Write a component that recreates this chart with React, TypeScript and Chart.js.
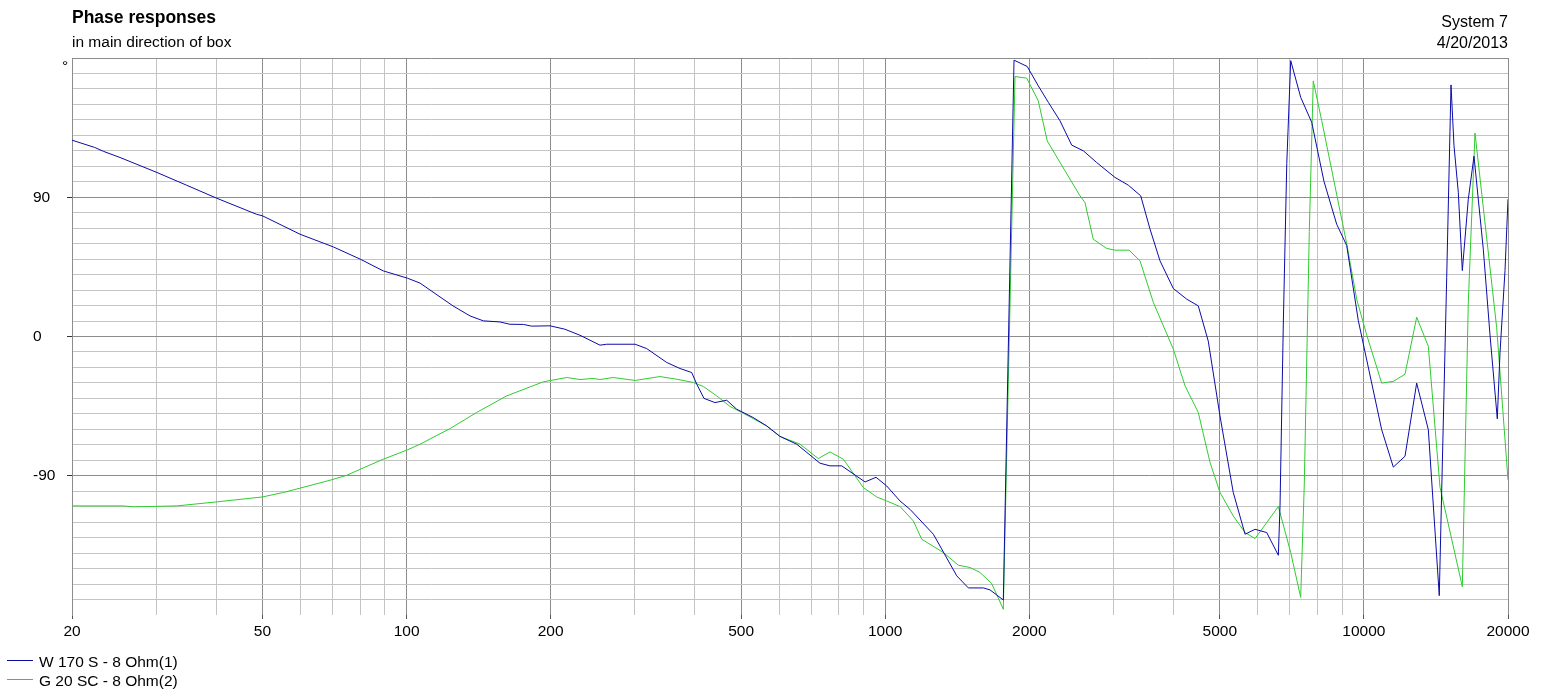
import React, { useEffect, useRef } from 'react';
import { Chart, registerables } from 'chart.js';

Chart.register(...registerables);

const FONT = '"Liberation Sans", Arial, Helvetica, sans-serif';

// ---- Data (frequency in Hz, phase in degrees) ----
const blueLabel = 'W 170 S - 8 Ohm(1)';
const greenLabel = 'G 20 SC - 8 Ohm(2)';

const blueFreq = [20, 22.3, 23.3, 25.2, 30.1, 34.7, 40.1, 48.6, 50, 59.9, 70.3, 80, 89.4, 100.4, 106.7, 125, 135.7, 144.7, 156.8, 164.4, 175.4, 182.5, 199.4, 214.2, 230.3, 241.6, 253.6, 261.8, 300.2, 317.4, 349.6, 372.7, 394.2, 403.8, 418.2, 440.8, 466.4, 489.4, 530, 565.4, 602.8, 653.2, 730.6, 766.6, 811, 907.4, 956.6, 1007, 1073.6, 1126.6, 1260.6, 1410.6, 1491.6, 1603.4, 1655.6, 1764.8, 1858, 1980, 2088, 2192, 2318, 2452, 2594, 2764, 3020, 3220, 3418, 3574, 3750, 3998, 4266, 4508, 4730, 5004, 5334, 5646, 5924, 6266, 6626, 6680, 6788, 6900, 7032, 7378, 7780, 8252, 8772, 9206, 9734, 10892, 11520, 12186, 12890, 13632, 14370, 14536, 14892, 15204, 15424, 15746, 16054, 16522, 16982, 17760, 18342, 18996, 19246, 19714, 20000];
const bluePhase = [126.9, 122.2, 119.6, 115.7, 106, 97.8, 89.4, 79, 78, 66.1, 57.9, 50, 42.4, 37.7, 34.5, 19.8, 13.3, 10.1, 9.4, 7.9, 7.8, 6.7, 6.9, 4.7, 0.8, -2.4, -5.6, -5, -5, -7.8, -16.8, -20.7, -23.3, -30.8, -40, -42.7, -41.2, -47, -52.4, -57.8, -64.6, -69.6, -81.9, -83.6, -83.6, -94, -91, -96.6, -106.3, -111.7, -127.8, -154.7, -162.5, -162.5, -163.8, -170.3, 178.6, 174.5, 162, 151.3, 139.4, 123.7, 120, 112.5, 102.8, 97.8, 90.9, 69.4, 48.9, 31, 24.1, 19.8, -3, -51.3, -100.8, -127.8, -124.6, -126.7, -141.4, -109, 10, 111.8, 178.3, 154.6, 138.4, 100.3, 72.6, 58.8, 10.3, -60.2, -84.4, -77.4, -30.1, -60.2, -167.5, -100.6, 38, 162.6, 123.4, 93.3, 42.6, 88.7, 116.5, 56.4, 1, -53.2, -10.5, 42.6, 88.7];

const greenFreq = [20, 25.6, 26.9, 33.1, 40.1, 50, 55.3, 59.9, 69.2, 75, 80, 89.4, 100.4, 106.7, 123.3, 140.1, 161.8, 193, 216, 230.3, 245.6, 253.6, 270.2, 300.2, 338.4, 366.8, 397.2, 416.8, 444.6, 474, 505.2, 565.4, 602.8, 663.8, 724.6, 766.6, 817.4, 899.8, 959.8, 1007, 1073.6, 1144.6, 1191.6, 1322.4, 1421, 1503.2, 1577.2, 1668.6, 1764.8, 1867, 1974.8, 2088, 2180, 2318, 2552, 2614, 2720, 2902, 3020, 3232, 3406, 3632, 3998, 4230, 4508, 4770, 5004, 5334, 5646, 5924, 6626, 7032, 7378, 7506, 7690, 7838, 8162, 9206, 9660, 10136, 10892, 11520, 12186, 12890, 13632, 14418, 16054, 16522, 17064, 18942, 20000];
const greenPhase = [-109.5, -109.5, -110.1, -109.5, -106.9, -103.7, -100.8, -98, -92.9, -89.7, -85.8, -79.3, -73.3, -69.6, -59.5, -49.1, -38.4, -29.3, -26.5, -27.8, -27.1, -27.8, -26.5, -28.4, -25.9, -27.6, -29.7, -32.3, -38.4, -45.2, -49.6, -57.8, -64.6, -69.6, -78.9, -74.6, -79.3, -97.6, -103.7, -106.3, -109.9, -119.2, -131, -139.6, -147.8, -149.3, -152.5, -159.7, -176.3, 168, 167, 152.3, 126.4, 112.5, 90.9, 86.6, 62.9, 56.9, 55.8, 55.8, 48.9, 22, -8.2, -31.9, -49.1, -81.4, -100.8, -116, -126.7, -130.6, -109.9, -139.6, -168.6, -95.9, 67.8, 165.2, 139.6, 59.9, 24.1, 1, -30.1, -29, -24.4, 12.5, -6.3, -97.3, -161.7, 21.8, 131.5, 5.6, -92.7];

// ---- Axes ----
const xGridValues = [20, 30, 40, 50, 60, 70, 80, 90, 100, 200, 300, 400, 500, 600, 700, 800, 900, 1000, 2000, 3000, 4000, 5000, 6000, 7000, 8000, 9000, 10000, 20000];
const xLabelValues = [20, 50, 100, 200, 500, 1000, 2000, 5000, 10000, 20000];
const yLabelValues = [-90, 0, 90];
const yMin = -180;
const yMax = 180;
const yStep = 10;

const titleText = 'Phase responses';
const subtitleText = 'in main direction of box';
const rightTop = ['System 7', '4/20/2013'];
const unitText = '°';

const GRID_MAJOR = '#8c8c8c';
const GRID_MINOR = '#c4c4c4';
const BLUE = '#0b0ba8';
const GREEN = '#2fcc2f';

const isMajorX = (v: number) => xLabelValues.includes(v);

const textPlugin = {
  id: 'textDecor',
  afterDraw(chart: any) {
    const ctx = chart.ctx as CanvasRenderingContext2D;
    ctx.save();
    ctx.fillStyle = '#000';
    ctx.textBaseline = 'alphabetic';
    ctx.textAlign = 'left';
    ctx.font = `bold 17.5px ${FONT}`;
    ctx.fillText(titleText, 72, 23);
    ctx.font = `15.5px ${FONT}`;
    ctx.fillText(subtitleText, 72, 46.5);
    ctx.textAlign = 'right';
    ctx.font = `16px ${FONT}`;
    ctx.fillText(rightTop[0], 1508, 27);
    ctx.fillText(rightTop[1], 1508, 47.5);
    ctx.textAlign = 'center';
    ctx.font = `15.5px ${FONT}`;
    ctx.fillText(unitText, 65, 71);
    // legend
    ctx.textAlign = 'left';
    chart.data.datasets.forEach((ds: any, i: number) => {
      const y = 660.5 + i * 19;
      ctx.strokeStyle = ds.borderColor;
      ctx.lineWidth = 1;
      ctx.beginPath();
      ctx.moveTo(7, y);
      ctx.lineTo(33, y);
      ctx.stroke();
      ctx.fillStyle = '#000';
      ctx.font = `15.5px ${FONT}`;
      ctx.fillText(ds.label, 39, y + 6.5);
    });
    ctx.restore();
  },
};

export default function App() {
  const ref = useRef<HTMLCanvasElement>(null);
  useEffect(() => {
    if (!ref.current) return;
    const yTicks: number[] = [];
    for (let v = yMin; v <= yMax; v += yStep) yTicks.push(v);
    const chart = new Chart(ref.current, {
      type: 'line',
      data: {
        datasets: [
          {
            label: blueLabel,
            data: blueFreq.map((f, i) => ({ x: f, y: bluePhase[i] })),
            borderColor: BLUE,
            borderWidth: 1,
            pointRadius: 0,
            tension: 0,
            fill: false,
          },
          {
            label: greenLabel,
            data: greenFreq.map((f, i) => ({ x: f, y: greenPhase[i] })),
            borderColor: GREEN,
            borderWidth: 1,
            pointRadius: 0,
            tension: 0,
            fill: false,
          },
        ],
      },
      options: {
        animation: false,
        responsive: false,
        devicePixelRatio: 1,
        layout: { padding: { left: 33, top: 58, right: 47, bottom: 0 } },
        plugins: {
          legend: { display: false },
          tooltip: { enabled: false },
          title: { display: false },
        },
        scales: {
          x: {
            type: 'logarithmic',
            min: 20,
            max: 20000,
            afterBuildTicks: (s: any) => {
              s.ticks = xGridValues.map((v) => ({ value: v }));
            },
            afterFit: (s: any) => {
              s.height = 83;
            },
            ticks: {
              autoSkip: false,
              maxRotation: 0,
              minRotation: 0,
              padding: 3,
              color: '#000',
              font: { family: FONT, size: 15.5 },
              callback: (v: any) => (isMajorX(Number(v)) ? String(v) : ''),
            },
            grid: {
              color: (c: any) => (c.tick && isMajorX(c.tick.value) ? GRID_MAJOR : GRID_MINOR),
              tickColor: (c: any) => (c.tick && isMajorX(c.tick.value) ? '#555' : 'rgba(0,0,0,0)'),
              tickLength: 4,
              lineWidth: 1,
            },
            border: { display: false },
          },
          y: {
            type: 'linear',
            min: yMin,
            max: yMax,
            afterBuildTicks: (s: any) => {
              s.ticks = yTicks.map((v) => ({ value: v }));
            },
            afterFit: (s: any) => {
              s.width = 39;
            },
            ticks: {
              autoSkip: false,
              crossAlign: 'far',
              padding: 0,
              color: '#000',
              font: { family: FONT, size: 15.5 },
              callback: (v: any) => (yLabelValues.includes(Number(v)) ? String(v) : ''),
            },
            grid: {
              color: (c: any) => {
                const v = c.tick ? c.tick.value : 0;
                if (v === yMin) return 'rgba(0,0,0,0)';
                return v % 90 === 0 ? GRID_MAJOR : GRID_MINOR;
              },
              tickColor: (c: any) =>
                c.tick && yLabelValues.includes(c.tick.value) ? '#333' : 'rgba(0,0,0,0)',
              tickLength: 5,
              lineWidth: 1,
            },
            border: { display: true, color: GRID_MAJOR, width: 1 },
          },
        },
      } as any,
      plugins: [textPlugin],
    });
    return () => chart.destroy();
  }, []);
  return (
    <div style={{ position: 'absolute', left: 0, top: 0, width: 1555, height: 698, background: '#fff' }}>
      <canvas ref={ref} width={1555} height={698} style={{ display: 'block', width: 1555, height: 698 }} />
    </div>
  );
}
